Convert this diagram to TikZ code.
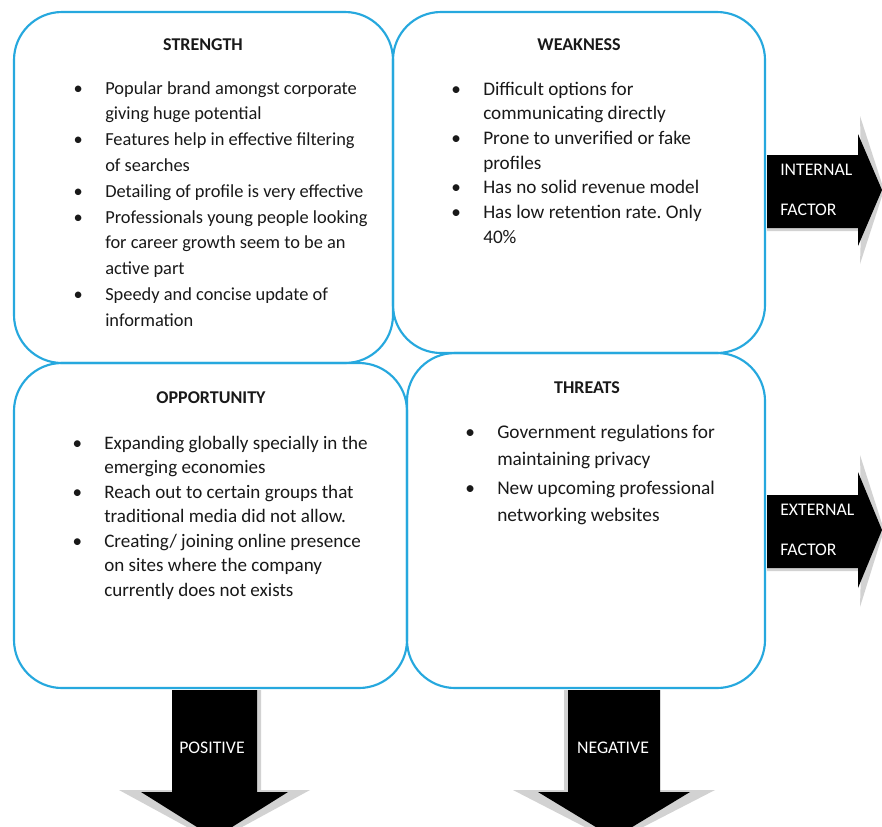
\documentclass[tikz,border=0pt]{standalone}
\usepackage{fontspec}
\setmainfont{Carlito}
\usetikzlibrary{fit}
\frenchspacing
\definecolor{boxblue}{RGB}{38,168,222}
\definecolor{shadowgray}{RGB}{210,210,210}
\newcommand\swotbullet{\llap{\makebox[0pt]{\textbullet}\hspace{20.25pt}}}
\begin{document}
\begin{tikzpicture}[x=0.75pt,y=-0.75pt,
  swotbox/.style={draw=boxblue, line width=1.6pt, rounded corners=36pt, inner sep=0pt},
  heading/.style={font=\fontsize{13.5}{16}\selectfont\bfseries, text=black!90, inner sep=0pt, anchor=center},
  itemlist/.style={inner sep=0pt, anchor=base west, text=black!90},
  arrowlabel/.style={text=white, font=\fontsize{13.3}{16}\selectfont, inner sep=0pt},
  blockarrow/.style={fill=black},
  arrowshadow/.style={fill=shadowgray}
]
\useasboundingbox (0,0) rectangle (882,826);
\clip (0,0) rectangle (882,826);
\fill[white] (0,0) rectangle (882,826);

% boxes
\node[swotbox, fit={(14,12) (393,363)}] (strength) {};
\node[swotbox, fit={(393,12) (765,353)}] (weakness) {};
\node[swotbox, fit={(14,363) (407,688)}] (opportunity) {};
\node[swotbox, fit={(407,353) (765,688)}] (threats) {};

% headings
\node[heading] (strength-title) at (203,45) {STRENGTH};
\node[heading] (weakness-title) at (579,45) {WEAKNESS};
\node[heading] (opportunity-title) at (211,398) {OPPORTUNITY};
\node[heading] (threats-title) at (587,388) {THREATS};

% lists
\node[itemlist, font=\fontsize{13.8}{19.35}\selectfont] (strength-list) at (105,94) {\begin{tabular}[t]{@{}l@{}}
\swotbullet Popular brand amongst corporate\\
giving huge potential\\
\swotbullet Features help in effective filtering\\
of searches\\
\swotbullet Detailing of profile is very effective\\
\swotbullet Professionals young people looking\\
for career growth seem to be an\\
active part\\
\swotbullet Speedy and concise update of\\
information
\end{tabular}};

\node[itemlist, font=\fontsize{14.4}{18.5}\selectfont] (weakness-list) at (483,95) {\begin{tabular}[t]{@{}l@{}}
\swotbullet Difficult options for\\
communicating directly\\
\swotbullet Prone to unverified or fake\\
profiles\\
\swotbullet Has no solid revenue model\\
\swotbullet Has low retention rate. Only\\
40\%
\end{tabular}};

\node[itemlist, font=\fontsize{14.3}{18.4}\selectfont] (opportunity-list) at (104,449) {\begin{tabular}[t]{@{}l@{}}
\swotbullet Expanding globally specially in the\\
emerging economies\\
\swotbullet Reach out to certain groups that\\
traditional media did not allow.\\
\swotbullet Creating/ joining online presence\\
on sites where the company\\
currently does not exists
\end{tabular}};

\node[itemlist, font=\fontsize{14.5}{20.25}\selectfont] (threats-list) at (497,438) {\begin{tabular}[t]{@{}l@{}}
\swotbullet Government regulations for\\
maintaining privacy\\[1.5pt]
\swotbullet New upcoming professional\\
networking websites
\end{tabular}};

% internal factor arrow
\fill[arrowshadow] (767,159) -- (861,159) -- (860,116) -- (884,190) -- (860,264) -- (861,231) -- (767,231) -- cycle;
\fill[blockarrow] (767,155) -- (858,155) -- (858,134) -- (882,190) -- (858,246) -- (858,228) -- (767,228) -- cycle;
\node[arrowlabel, anchor=west] (internal-1) at (780,170) {INTERNAL};
\node[arrowlabel, anchor=west] (internal-2) at (780,210) {FACTOR};

% external factor arrow
\fill[arrowshadow] (767,499) -- (861,499) -- (860,455) -- (884,530) -- (860,607) -- (861,571) -- (767,571) -- cycle;
\fill[blockarrow] (767,495) -- (858,495) -- (858,472) -- (882,530) -- (858,588) -- (858,568) -- (767,568) -- cycle;
\node[arrowlabel, anchor=west] (external-1) at (780,510) {EXTERNAL};
\node[arrowlabel, anchor=west] (external-2) at (780,550) {FACTOR};

% positive arrow
\fill[arrowshadow] (172,690) -- (261,690) -- (261,790) -- (310,790) -- (214.5,842) -- (119,790) -- (172,790) -- cycle;
\fill[blockarrow] (172,690) -- (257,690) -- (257,792) -- (288,792) -- (214.5,838) -- (141,792) -- (172,792) -- cycle;
\node[arrowlabel] (positive) at (212,748) {POSITIVE};

% negative arrow
\fill[arrowshadow] (564,690) -- (660,690) -- (660,790) -- (715,790) -- (614,842) -- (513,790) -- (564,790) -- cycle;
\fill[blockarrow] (568,690) -- (660,690) -- (660,792) -- (690,792) -- (614,838) -- (538,792) -- (568,792) -- cycle;
\node[arrowlabel] (negative) at (613,748) {NEGATIVE};
\end{tikzpicture}
\end{document}
